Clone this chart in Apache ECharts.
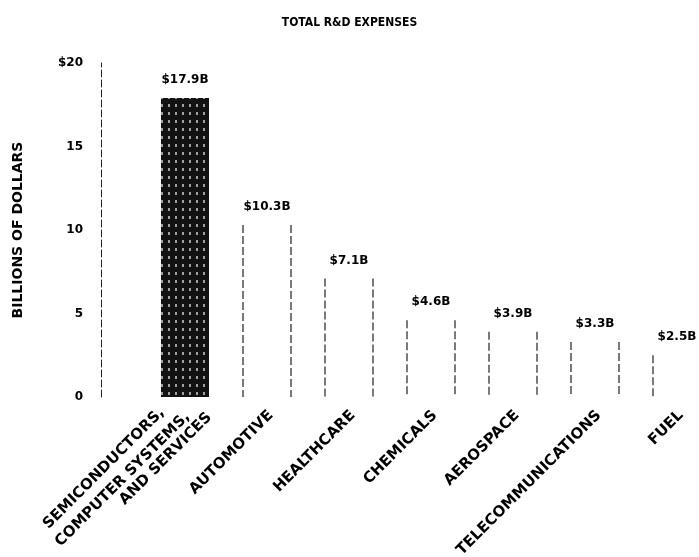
<!DOCTYPE html>
<html>
<head>
<meta charset="utf-8">
<script src="https://cdn.jsdelivr.net/npm/echarts@6/dist/echarts.min.js"></script>
<style>
html,body{margin:0;padding:0;background:#fff;}
#chart{width:699px;height:557px;}
</style>
</head>
<body>
<div id="chart"></div>
<script>
var categories = ['SEMICONDUCTORS,\nCOMPUTER SYSTEMS,\nAND SERVICES', 'AUTOMOTIVE', 'HEALTHCARE', 'CHEMICALS', 'AEROSPACE', 'TELECOMMUNICATIONS', 'FUEL'];
var values = [17.9, 10.3, 7.1, 4.6, 3.9, 3.3, 2.5];
var valueLabels = ['$17.9B', '$10.3B', '$7.1B', '$4.6B', '$3.9B', '$3.3B', '$2.5B'];
var yTicks = [0, 5, 10, 15, 20];

var FONT = 'DejaVu Sans';
var COND = '"DejaVu Sans Condensed", "Liberation Sans Narrow", "DejaVu Sans"';
var chart = echarts.init(document.getElementById('chart'));

var barData = values.map(function (v, i) {
  if (i === 0) {
    return {
      value: v,
      itemStyle: {
        color: '#121212',
        decal: {
          symbol: 'rect',
          symbolSize: 1,
          color: 'rgba(255,255,255,0.6)',
          dashArrayX: [[2, 4.5]],
          dashArrayY: [2.5, 5],
          rotation: 0
        }
      }
    };
  }
  return { value: v, itemStyle: { color: 'rgba(255,255,255,0)' } };
});

var outlineData = values.map(function (v, i) { return i === 0 ? null : [i, v]; }).filter(function (d) { return d; });

var P = 13;
var lblBase = { fontFamily: FONT, fontWeight: 'bold', fontSize: 15, color: '#000', lineHeight: 21 };
function rs(pad) { return Object.assign({}, lblBase, { padding: pad }); }

chart.setOption({
  animation: false,
  backgroundColor: '#fff',
  title: {
    text: 'TOTAL R&D EXPENSES',
    left: 'center',
    top: 12,
    textStyle: { fontFamily: COND, fontWeight: 'bold', fontSize: 12, color: '#000' }
  },
  grid: [
    { left: 185, top: 63, width: 492, bottom: 160, outerBoundsMode: 'none', containLabel: false },
    { left: 189 + 0.707 * P, top: 63, width: 492, bottom: 160, outerBoundsMode: 'none', containLabel: false }
  ],
  xAxis: [
    {
      type: 'category', gridIndex: 0, data: categories, boundaryGap: false,
      axisLine: { show: false }, axisTick: { show: false }, axisLabel: { show: false }
    },
    {
      type: 'category', gridIndex: 1, data: categories, boundaryGap: false,
      axisLine: { show: false }, axisTick: { show: false },
      axisLabel: {
        interval: 0, rotate: 45, margin: 16 - 0.707 * P, hideOverlap: false,
        fontFamily: FONT, fontWeight: 'bold', fontSize: 15, color: '#000', lineHeight: 21,
        formatter: function (v, i) {
          if (i === 0) {
            var parts = v.split('\n');
            return '{a|' + parts[0] + '}\n{b|' + parts[1] + '}\n{c|' + parts[2] + '}';
          }
          return '{n|' + v + '}';
        },
        rich: {
          n: rs([0, P, 0, 0]),
          a: rs([0, 30, 0, 0]),
          b: rs([0, 15, 0, 0]),
          c: rs([0, 0, 10, 0])
        }
      }
    }
  ],
  yAxis: [
    {
      type: 'value', gridIndex: 0, min: 0, max: 20, interval: 5, offset: 84,
      name: 'BILLIONS OF DOLLARS', nameLocation: 'middle', nameRotate: 90, nameGap: 76,
      nameTextStyle: { fontFamily: FONT, fontWeight: 'bold', fontSize: 14, color: '#000' },
      axisLine: { show: true, lineStyle: { color: '#222', width: 1, type: [7, 3] } },
      axisTick: { show: false },
      splitLine: { show: false },
      axisLabel: {
        margin: 18, fontFamily: FONT, fontWeight: 'bold', fontSize: 12, color: '#000',
        formatter: function (v) { return v === 20 ? '$20' : String(v); }
      }
    },
    { type: 'value', gridIndex: 1, min: 0, max: 20, show: false }
  ],
  series: [
    {
      type: 'bar', xAxisIndex: 0, yAxisIndex: 0, barWidth: 48, clip: false,
      data: barData,
      label: {
        show: true, position: 'top', distance: 12,
        fontFamily: FONT, fontWeight: 'bold', fontSize: 12, color: '#000',
        formatter: function (p) { return valueLabels[p.dataIndex]; }
      }
    },
    {
      type: 'custom', xAxisIndex: 0, yAxisIndex: 0, clip: false,
      data: outlineData,
      renderItem: function (params, api) {
        var top = api.coord([api.value(0), api.value(1)]);
        var bot = api.coord([api.value(0), 0]);
        var half = 24;
        var style = { stroke: '#222', lineWidth: 1.2, lineDash: [8, 3] };
        return {
          type: 'group',
          children: [
            { type: 'line', shape: { x1: top[0] - half, y1: top[1], x2: bot[0] - half, y2: bot[1] }, style: style },
            { type: 'line', shape: { x1: top[0] + half, y1: top[1], x2: bot[0] + half, y2: bot[1] }, style: style }
          ]
        };
      }
    }
  ]
});
</script>
</body>
</html>
